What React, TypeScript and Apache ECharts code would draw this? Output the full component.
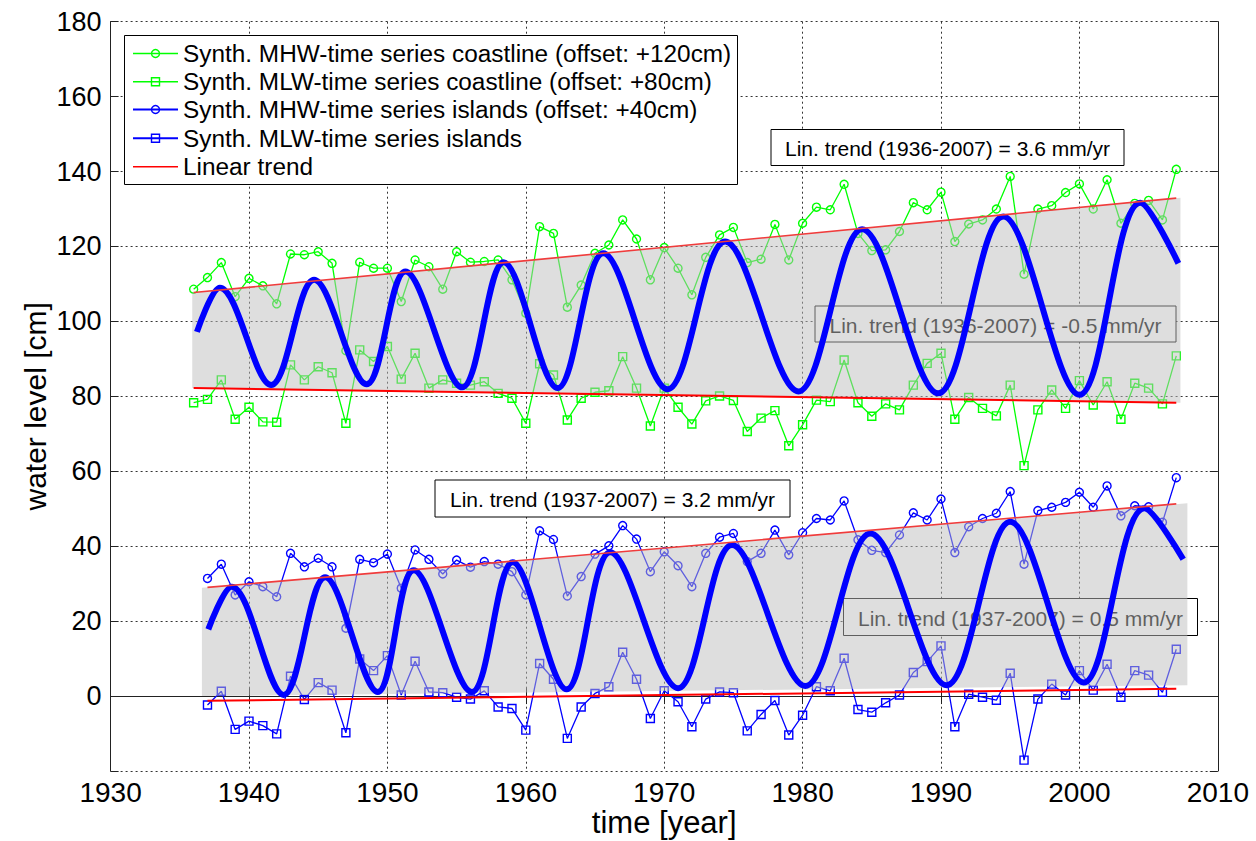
import React, { useEffect, useRef } from "react";
import * as echarts from "echarts";

// ---------- DATA ----------
const coastYears = [
  1936, 1937, 1938, 1939, 1940, 1941, 1942, 1943, 1944, 1945,
  1946, 1947, 1948, 1949, 1950, 1951, 1952, 1953, 1954, 1955,
  1956, 1957, 1958, 1959, 1960, 1961, 1962, 1963, 1964, 1965,
  1966, 1967, 1968, 1969, 1970, 1971, 1972, 1973, 1974, 1975,
  1976, 1977, 1978, 1979, 1980, 1981, 1982, 1983, 1984, 1985,
  1986, 1987, 1988, 1989, 1990, 1991, 1992, 1993, 1994, 1995,
  1996, 1997, 1998, 1999, 2000, 2001, 2002, 2003, 2004, 2005,
  2006, 2007,
];
const islandYears = coastYears.slice(1);

const coastMHW = [
  108.6, 111.7, 115.7, 106.6, 111.5, 109.5, 104.7, 118.0, 117.8, 118.6,
  115.5, 92.2, 115.8, 114.2, 114.2, 105.3, 116.4, 114.6, 108.6, 118.6,
  115.8, 116.0, 116.4, 111.1, 102.2, 125.3, 123.5, 103.8, 109.7, 118.2,
  120.4, 127.1, 122.0, 111.1, 119.7, 114.2, 107.1, 117.1, 123.1, 125.1,
  115.7, 116.6, 125.9, 116.4, 126.2, 130.5, 129.8, 136.6, 123.5, 118.9,
  119.1, 124.0, 131.7, 129.8, 134.5, 121.3, 126.0, 127.1, 130.0, 138.7,
  112.6, 130.0, 130.9, 134.4, 136.7, 130.0, 137.8, 126.2, 131.5, 132.3,
  127.1, 140.6,
];
const coastMLW = [
  78.3, 79.2, 84.4, 73.9, 77.1, 73.2, 73.1, 88.4, 84.4, 87.9,
  86.3, 72.8, 92.4, 89.3, 93.3, 84.6, 91.5, 82.2, 84.4, 83.5,
  83.0, 83.9, 80.8, 79.5, 72.8, 88.7, 85.7, 73.7, 79.5, 81.1,
  81.5, 90.6, 82.2, 72.1, 82.2, 77.1, 72.6, 78.8, 80.1, 78.9,
  70.6, 74.2, 76.2, 66.8, 72.4, 79.0, 78.6, 89.7, 78.3, 74.7,
  78.0, 76.4, 83.0, 88.8, 91.5, 73.9, 79.7, 76.8, 74.8, 83.0,
  61.5, 76.4, 81.7, 76.8, 84.2, 77.7, 83.9, 73.9, 83.5, 82.2,
  78.0, 90.8,
];
const islandMHW = [
  31.4, 35.2, 27.0, 30.5, 29.2, 26.5, 38.1, 34.5, 36.8, 34.5,
  18.1, 36.5, 35.6, 37.9, 28.8, 39.0, 36.5, 32.6, 36.3, 34.4,
  35.9, 35.2, 33.2, 27.0, 44.1, 41.8, 26.7, 31.9, 37.9, 40.1,
  45.5, 41.9, 33.2, 38.5, 34.8, 29.2, 38.1, 42.4, 43.4, 35.9,
  38.1, 44.3, 37.7, 43.6, 47.4, 47.0, 52.1, 41.7, 38.9, 38.3,
  43.0, 48.9, 47.0, 52.6, 38.3, 45.2, 47.4, 48.8, 54.6, 35.2,
  49.5, 50.4, 51.7, 54.4, 50.4, 56.1, 48.1, 50.8, 50.5, 46.4,
  58.3,
];
const islandMLW = [
  -2.4, 1.3, -8.9, -6.7, -7.9, -10.1, 5.3, -0.9, 3.6, 1.6,
  -9.8, 9.9, 6.8, 10.8, 0.3, 9.3, 1.1, 0.9, -0.3, -0.8,
  1.4, -2.9, -3.3, -9.1, 8.7, 4.5, -11.3, -2.9, 0.7, 2.5,
  11.7, 4.5, -6.0, 1.4, -1.5, -8.2, -0.8, 1.1, 0.9, -9.3,
  -4.9, -1.2, -10.4, -5.1, 2.5, 1.4, 10.1, -3.6, -4.3, -1.8,
  0.3, 6.3, 9.2, 13.4, -8.2, 0.5, -0.3, -1.1, 6.1, -17.1,
  -0.8, 3.2, 0.3, 6.8, 1.6, 8.5, -0.3, 6.8, 5.6, 1.0,
  12.5,
];

// smooth oscillation curves: read start, extrema, end
const coastSineX = [1936.24, 1937.9, 1941.6, 1944.7, 1948.5, 1951.3, 1955.4, 1958.4, 1962.3, 1965.6, 1970.25, 1974.4, 1979.7, 1984.3, 1989.8, 1994.5, 2000.0, 2004.4, 2007.15];
const coastSineY = [97.2, 109.0, 83.0, 111.1, 83.2, 113.3, 82.4, 115.8, 82.2, 118.2, 81.9, 121.3, 81.3, 124.6, 80.8, 128.0, 80.4, 131.7, 115.5];
const islandSineX = [1937.06, 1938.75, 1942.5, 1945.5, 1949.3, 1951.9, 1956.1, 1959.05, 1962.95, 1966.1, 1971.0, 1974.9, 1980.2, 1984.9, 1990.4, 1995.0, 2000.3, 2004.7, 2007.5];
const islandSineY = [17.8, 29.2, 0.3, 31.7, 1.1, 33.6, 1.1, 35.7, 1.8, 38.4, 2.1, 40.3, 2.7, 43.4, 2.9, 46.5, 3.6, 50.1, 36.5];

// linear trends (end points)
const coastTrendX = [1936, 2007];
const coastMHWTrend = [107.7, 132.9];
const coastMLWTrend = [82.2, 78.3];
const islandTrendX = [1937, 2007];
const islandMHWTrend = [29.0, 51.3];
const islandMLWTrend = [-1.25, 1.95];

// shaded bands
const coastBandX = [1935.9, 2007.3];
const coastBandLo = [82.2, 78.3];
const coastBandHi = [107.7, 133.0];
const islandBandX = [1936.6, 2007.8];
const islandBandLo = [0.0, 2.9];
const islandBandHi = [28.9, 51.5];

const legendLabels = [
  "Synth. MHW-time series coastline (offset: +120cm)",
  "Synth. MLW-time series coastline (offset: +80cm)",
  "Synth. MHW-time series islands (offset: +40cm)",
  "Synth. MLW-time series islands",
  "Linear trend",
];
const trendLabels = [
  "Lin. trend (1936-2007) = 3.6 mm/yr",
  "Lin. trend (1936-2007) = -0.5 mm/yr",
  "Lin. trend (1937-2007) = 3.2 mm/yr",
  "Lin. trend (1937-2007) = 0.5 mm/yr",
];

// ---------- HELPERS ----------
const FONT = '"Liberation Sans", Arial, Helvetica, sans-serif';
const GREEN = "#00ff00";
const BLUE = "#0000ff";
const RED = "#ff0000";
const BAND = "rgba(189,189,189,0.5)";

const pairs = (xs: number[], ys: number[]) => xs.map((x, i) => [x, ys[i]]);

function dataSeries(xs: number[], ys: number[], color: string, symbol: string) {
  return {
    type: "line",
    data: pairs(xs, ys),
    z: 2,
    silent: true,
    symbol,
    symbolSize: 8,
    showAllSymbol: true,
    lineStyle: { color, width: 1.3 },
    itemStyle: { color: "rgba(0,0,0,0)", borderColor: color, borderWidth: 1.4 },
    emphasis: { disabled: true },
  };
}

function bandSeries(xs: number[], lo: number[], hi: number[]) {
  return {
    type: "custom",
    z: 4,
    silent: true,
    data: [[xs[0], lo[0], hi[0], xs[1], lo[1], hi[1]]],
    encode: { x: [0, 3], y: [1, 2, 4, 5] },
    renderItem: (_p: any, api: any) => {
      const pts = [
        api.coord([api.value(0), api.value(2)]),
        api.coord([api.value(3), api.value(5)]),
        api.coord([api.value(3), api.value(4)]),
        api.coord([api.value(0), api.value(1)]),
      ];
      return { type: "polygon", shape: { points: pts }, style: { fill: BAND } };
    },
  };
}

function trendSeries(xs: number[], ys: number[], width: number, color: string) {
  return {
    type: "line",
    data: pairs(xs, ys),
    z: 6,
    silent: true,
    symbol: "none",
    lineStyle: { color, width },
  };
}

function sineSeries(xs: number[], ys: number[]) {
  return {
    type: "line",
    data: pairs(xs, ys),
    z: 5,
    silent: true,
    symbol: "none",
    smooth: 0.35,
    lineStyle: { color: BLUE, width: 6 },
  };
}

function textBox(x: number, y: number, w: number, h: number, label: string, z: number) {
  return [
    {
      type: "rect",
      z,
      silent: true,
      shape: { x, y, width: w, height: h },
      style: { fill: "#ffffff", stroke: "#000000", lineWidth: 1 },
    },
    {
      type: "text",
      z: z + 1,
      silent: true,
      x: x + w / 2,
      y: y + h / 2 + 1,
      style: {
        text: label,
        fill: "#000000",
        fontSize: 21,
        fontFamily: FONT,
        align: "center",
        verticalAlign: "middle",
      },
    },
  ];
}

function legendElements() {
  const els: any[] = [
    {
      type: "rect",
      z: 20,
      silent: true,
      shape: { x: 124.5, y: 35.5, width: 613, height: 149 },
      style: { fill: "#ffffff", stroke: "#000000", lineWidth: 1 },
    },
  ];
  const rows = [53.5, 81.7, 109.5, 138.3, 166.7];
  const colors = [GREEN, GREEN, BLUE, BLUE, RED];
  const markers = ["circle", "rect", "circle", "rect", "none"];
  rows.forEach((cy, i) => {
    els.push({
      type: "line",
      z: 21,
      silent: true,
      shape: { x1: 133, y1: cy, x2: 178, y2: cy },
      style: { stroke: colors[i], lineWidth: i === 2 || i === 3 ? 2 : 1.5 },
    });
    if (markers[i] === "circle") {
      els.push({
        type: "circle",
        z: 22,
        silent: true,
        shape: { cx: 155.5, cy, r: 4 },
        style: { fill: "none", stroke: colors[i], lineWidth: 1.4 },
      });
    } else if (markers[i] === "rect") {
      els.push({
        type: "rect",
        z: 22,
        silent: true,
        shape: { x: 151.5, y: cy - 4, width: 8, height: 8 },
        style: { fill: "none", stroke: colors[i], lineWidth: 1.4 },
      });
    }
    els.push({
      type: "text",
      z: 22,
      silent: true,
      x: 183,
      y: cy + 1,
      scaleX: 1.06,
      style: {
        text: legendLabels[i],
        fill: "#000000",
        fontSize: 23,
        fontFamily: FONT,
        align: "left",
        verticalAlign: "middle",
      },
    });
  });
  return els;
}

export default function App() {
  const ref = useRef<HTMLDivElement>(null);

  useEffect(() => {
    if (!ref.current) return;
    const chart = echarts.init(ref.current, undefined, { renderer: "svg" });

    const axisLine = { show: true, lineStyle: { color: "#222", width: 1 } };
    const axisTick = { show: true, inside: true, length: 8, lineStyle: { color: "#222", width: 1 } };
    const splitLine = { show: true, lineStyle: { type: [2, 3], color: "#333", width: 1 } };

    const option: any = {
      animation: false,
      backgroundColor: "#ffffff",
      grid: {
        left: 110.6,
        right: 38.2,
        top: 21.7,
        bottom: 70,
        containLabel: false,
        outerBoundsMode: "none",
      },
      xAxis: [
        {
          type: "value",
          min: 1930,
          max: 2010,
          interval: 10,
          position: "bottom",
          axisLine,
          axisTick,
          splitLine,
          axisLabel: {
            fontSize: 28,
            lineHeight: 28,
            fontFamily: FONT,
            color: "#000",
            margin: 7,
            formatter: (v: number) => String(v),
          },
          name: "time [year]",
          nameLocation: "middle",
          nameGap: 36,
          nameMoveOverlap: false,
          nameTextStyle: { fontSize: 31, lineHeight: 31, fontFamily: FONT, color: "#000" },
        },
        {
          type: "value",
          min: 1930,
          max: 2010,
          interval: 10,
          position: "top",
          axisLine,
          axisTick,
          splitLine: { show: false },
          axisLabel: { show: false },
        },
      ],
      yAxis: [
        {
          type: "value",
          min: -20,
          max: 180,
          interval: 20,
          position: "left",
          axisLine,
          axisTick,
          splitLine,
          axisLabel: {
            fontSize: 27,
            fontFamily: FONT,
            color: "#000",
            margin: 9,
            formatter: (v: number) => (v === -20 ? "" : String(v)),
          },
          name: "water level [cm]",
          nameLocation: "middle",
          nameGap: 60,
          nameMoveOverlap: false,
          nameTextStyle: {
            fontSize: 30,
            fontFamily: FONT,
            color: "#000",
            padding: [0, 20, 0, 0],
          },
        },
        {
          type: "value",
          min: -20,
          max: 180,
          interval: 20,
          position: "right",
          axisLine,
          axisTick,
          splitLine: { show: false },
          axisLabel: { show: false },
        },
      ],
      series: [
        dataSeries(coastYears, coastMHW, GREEN, "circle"),
        dataSeries(coastYears, coastMLW, GREEN, "rect"),
        dataSeries(islandYears, islandMHW, BLUE, "circle"),
        dataSeries(islandYears, islandMLW, BLUE, "rect"),
        bandSeries(coastBandX, coastBandLo, coastBandHi),
        bandSeries(islandBandX, islandBandLo, islandBandHi),
        sineSeries(coastSineX, coastSineY),
        sineSeries(islandSineX, islandSineY),
        trendSeries(coastTrendX, coastMHWTrend, 1.6, "#f03c3c"),
        trendSeries(coastTrendX, coastMLWTrend, 2, RED),
        trendSeries(islandTrendX, islandMHWTrend, 1.6, "#f03c3c"),
        trendSeries(islandTrendX, islandMLWTrend, 2, RED),
      ],
      graphic: {
        elements: [
          ...textBox(771, 129.5, 353, 36, trendLabels[0], 8),
          ...textBox(815, 306, 361, 36, trendLabels[1], 3),
          ...textBox(435, 480, 355, 37, trendLabels[2], 8),
          ...textBox(843.5, 598.5, 354, 37, trendLabels[3], 3),
          ...legendElements(),
        ],
      },
    };

    chart.setOption(option);
    return () => {
      chart.dispose();
    };
  }, []);

  return (
    <div
      ref={ref}
      style={{ position: "absolute", left: 0, top: 0, width: 1256, height: 841, background: "#fff" }}
    />
  );
}
